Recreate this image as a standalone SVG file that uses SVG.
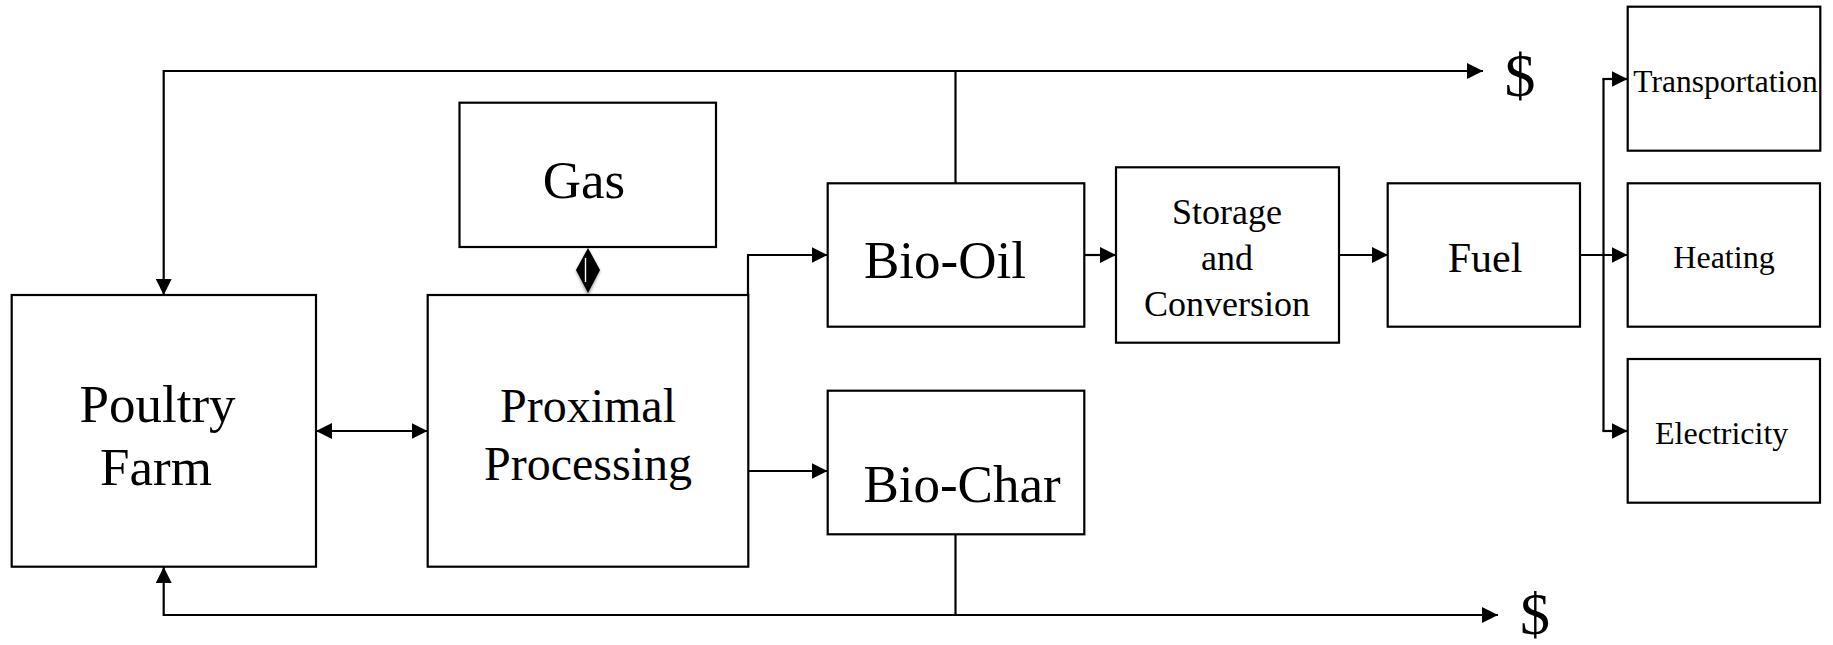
<svg xmlns="http://www.w3.org/2000/svg" width="1833" height="645" viewBox="0 0 1833 645">
  <style>
    .box { fill: #ffffff; stroke: #000000; stroke-width: 2.2; }
    text { font-family: 'Liberation Serif', 'Times New Roman', serif; fill: #000000; text-anchor: middle; }
    .conn { fill: none; stroke: #000000; stroke-width: 2.2; }
    .arr { marker-end: url(#ah); }
  </style>
  <defs>
    <marker id="ah" markerUnits="userSpaceOnUse" markerWidth="16" markerHeight="16" viewBox="0 0 15 15" refX="15" refY="7.5" orient="auto-start-reverse">
      <path d="M0,0 L15,7.5 L0,15 z" fill="#000000"/>
    </marker>
    <filter id="blur" x="-50%" y="-50%" width="200%" height="200%">
      <feGaussianBlur stdDeviation="1.5"/>
    </filter>
  </defs>
  <rect width="1833" height="645" fill="#ffffff"/>

  <g id="connectors">
    <path class="conn arr" d="M955.5,183 V71 H1483"/>
    <path class="conn arr" d="M955.5,71 H163.7 V295"/>
    <path class="conn arr" d="M955.5,534 V615 H1498"/>
    <path class="conn arr" d="M955.5,615 H163.7 V567"/>
    <path class="conn arr" style="marker-start:url(#ah)" d="M316,431 H427.5"/>
    <path class="conn arr" d="M748,295 V255 H827.5"/>
    <path class="conn arr" d="M748,471 H827.5"/>
    <path class="conn arr" d="M1084,255 H1116"/>
    <path class="conn arr" d="M1339,255 H1388"/>
    <path class="conn arr" d="M1580,255 H1627.5"/>
    <path class="conn" d="M1603.5,79 V431"/>
    <path class="conn arr" d="M1602.4,79 H1627.5"/>
    <path class="conn arr" d="M1602.4,431 H1627.5"/>
    <g id="gas-arrow">
      <path d="M588,250 L600,271 L588,296 L576,271 z" fill="#555555" filter="url(#blur)" opacity="0.6"/>
      <path d="M588,248 L600,270 L588,293 L576,270 z" fill="#000000"/>
      <path d="M585.5,258 V282" stroke="#ffffff" stroke-width="1.4"/>
    </g>
  </g>

  <g id="poultry-farm">
    <rect class="box" x="11.7" y="295" width="304.3" height="271.7"/>
    <text x="157.5" y="421.7" font-size="53">Poultry</text>
    <text x="156" y="485" font-size="53">Farm</text>
  </g>

  <g id="proximal-processing">
    <rect class="box" x="427.7" y="295" width="320.6" height="271.7"/>
    <text x="588" y="421.7" font-size="48">Proximal</text>
    <text x="588" y="480" font-size="48">Processing</text>
  </g>

  <g id="gas">
    <rect class="box" x="459.5" y="102.7" width="256.5" height="144.3"/>
    <text x="584" y="198.3" font-size="53">Gas</text>
  </g>

  <g id="bio-oil">
    <rect class="box" x="827.7" y="183.3" width="256.6" height="143.4"/>
    <text x="945" y="278.3" font-size="53">Bio-Oil</text>
  </g>

  <g id="bio-char">
    <rect class="box" x="827.7" y="390.7" width="256.6" height="143.6"/>
    <text x="962" y="501.7" font-size="53">Bio-Char</text>
  </g>

  <g id="storage-conversion">
    <rect class="box" x="1116" y="167.3" width="223" height="175.4"/>
    <text x="1227" y="224" font-size="36">Storage</text>
    <text x="1227" y="270" font-size="36">and</text>
    <text x="1227" y="316" font-size="36">Conversion</text>
  </g>

  <g id="fuel">
    <rect class="box" x="1387.7" y="183.3" width="192.3" height="143.4"/>
    <text x="1485" y="271.7" font-size="42">Fuel</text>
  </g>

  <g id="transportation">
    <rect class="box" x="1627.7" y="6.7" width="192.6" height="144"/>
    <text x="1725.5" y="91.7" font-size="31.5">Transportation</text>
  </g>

  <g id="heating">
    <rect class="box" x="1627.7" y="183.3" width="192.3" height="143.4"/>
    <text x="1724" y="268.3" font-size="32">Heating</text>
  </g>

  <g id="electricity">
    <rect class="box" x="1627.7" y="359" width="192.3" height="143.7"/>
    <text x="1721.7" y="444" font-size="32">Electricity</text>
  </g>

  <g id="dollar-top">
    <text x="1520" y="96" font-size="62">$</text>
  </g>
  <g id="dollar-bottom">
    <text x="1535" y="634" font-size="60">$</text>
  </g>
</svg>
